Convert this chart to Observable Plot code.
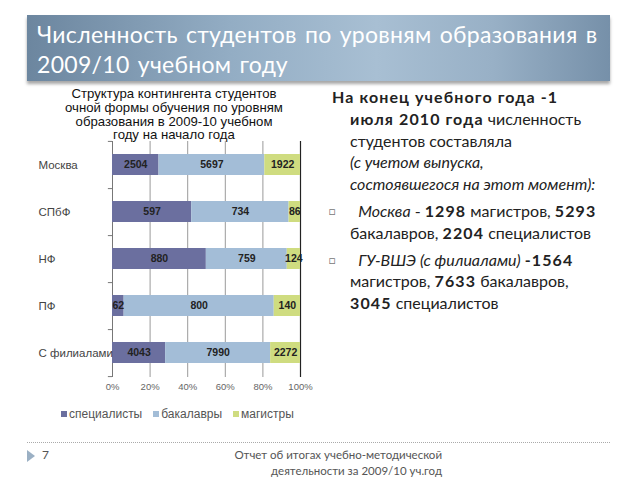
<!DOCTYPE html>
<html><head><meta charset="utf-8">
<script src="https://cdn.jsdelivr.net/npm/d3@7"></script>
<script src="https://cdn.jsdelivr.net/npm/@observablehq/plot@0.6"></script>
<style>
html,body{margin:0;padding:0;background:#fff;}
#page{position:relative;width:640px;height:480px;overflow:hidden;font-family:Lato,"DejaVu Sans",sans-serif;}
#banner{position:absolute;left:27px;top:15px;width:583px;height:66px;
 background:linear-gradient(to right,#6c869f 0%,#93adc4 35%,#a8bfd3 60%,#98b0c6 80%,#7690a9 100%);
 box-shadow:0 3px 3px rgba(0,0,0,0.35);}
#banner .t{position:absolute;left:10px;color:#fff;font-size:23px;white-space:nowrap;letter-spacing:0.3px;word-spacing:2px;}
#ctitle{position:absolute;left:54px;width:240px;top:87px;text-align:center;font-family:"Liberation Sans",Arial,sans-serif;font-size:13.2px;line-height:13.8px;color:#111;white-space:nowrap;}
#chart{position:absolute;left:0;top:130px;}
#legend{position:absolute;left:61px;top:407px;font-family:"Liberation Sans",Arial,sans-serif;font-size:12px;color:#555;white-space:nowrap;}
#legend span.sw{display:inline-block;width:6px;height:6px;margin-right:2px;vertical-align:1px;}
#legend span.item{margin-right:11px;}
#rtext{position:absolute;left:332px;top:86px;width:300px;font-size:16px;line-height:21.8px;color:#222;white-space:nowrap;}
#rtext b{letter-spacing:1.1px;}
#rtext p{margin:0;}
#rtext .ind{padding-left:18px;}
#rtext .bul{position:relative;padding-left:18px;margin-top:5px;}
#rtext .bul .bx{position:absolute;left:-3px;top:0;font-size:11px;color:#777;}
#footline{position:absolute;left:27px;top:442px;width:583px;border-top:1px dotted #aaa;}
#tri{position:absolute;left:27px;top:450px;width:0;height:0;border-top:6px solid transparent;border-bottom:6px solid transparent;border-left:8px solid #9bb0c4;}
#pnum{position:absolute;left:42px;top:447px;font-size:12px;color:#555;}
#foot{position:absolute;left:200px;width:242px;top:447px;text-align:right;font-size:11.5px;line-height:15.5px;color:#555;}
</style></head>
<body><div id="page">
<div id="banner">
 <div class="t" style="top:5px">Численность студентов по уровням образования в</div>
 <div class="t" style="top:35px">2009/10 учебном году</div>
</div>
<div id="ctitle">Структура контингента студентов<br>очной формы обучения по уровням<br>образования в 2009-10 учебном<br>году на начало года</div>
<div id="chart"></div>
<div id="legend"></div>
<div id="rtext">
 <p><b>На конец учебного года -1</b></p>
 <p class="ind"><b>июля 2010 года</b> численность<br>студентов составляла<br><i>(с учетом выпуска,<br>состоявшегося на этот момент):</i></p>
 <p class="bul"><span class="bx">□</span>&nbsp;&nbsp;<i>Москва</i> - <b>1298</b> магистров, <b>5293</b><br>бакалавров, <b>2204</b> специалистов</p>
 <p class="bul"><span class="bx">□</span>&nbsp;&nbsp;<i>ГУ-ВШЭ (с филиалами)</i> <b>-1564</b><br>магистров, <b>7633</b> бакалавров,<br><b>3045</b> специалистов</p>
</div>
<div id="footline"></div>
<div id="tri"></div>
<div id="pnum">7</div>
<div id="foot">Отчет об итогах учебно-методической<br>деятельности за 2009/10 уч.год</div>
</div>
<script>
const categories = ["Москва", "СПбФ", "НФ", "ПФ", "С филиалами"];
const levels = ["специалисты", "бакалавры", "магистры"];
const specialists = [2504, 597, 880, 62, 4043];
const bachelors = [5697, 734, 759, 800, 7990];
const masters = [1922, 86, 124, 140, 2272];
const colors = ["#6b6f9f", "#a3bdd7", "#cfdc80"];
const xTicks = [0, 0.2, 0.4, 0.6, 0.8, 1];
const xTickLabels = ["0%", "20%", "40%", "60%", "80%", "100%"];

const series = [specialists, bachelors, masters];
const rows = [];
levels.forEach((lev, li) => categories.forEach((c, ci) => rows.push({cat: c, level: lev, value: series[li][ci]})));

const H = 280, mTop = 11, mBot = 33;
const chart = Plot.plot({
  width: 320, height: H,
  marginLeft: 112, marginRight: 20, marginTop: mTop, marginBottom: mBot,
  style: {fontFamily: "'Liberation Sans', Arial, sans-serif", background: "transparent"},
  x: {domain: [0, 1]},
  y: {domain: categories, paddingInner: 0.55, paddingOuter: 0.275, align: 0.5},
  color: {domain: levels, range: colors},
  marks: [
    Plot.ruleX(xTicks.slice(1, 5), {stroke: "#9a9a9a", strokeWidth: 1}),
    Plot.ruleX([1], {stroke: "#222", strokeWidth: 1.2}),
    Plot.ruleX([0], {stroke: "#777", strokeWidth: 1}),
    Plot.ruleY(categories, {y: d => d, x1: -0.022, x2: 0, dy: (H - mTop - mBot) / 10, stroke: "#777"}),
    Plot.ruleY(categories.slice(0, 1), {y: d => d, x1: -0.022, x2: 0, dy: -(H - mTop - mBot) / 10, stroke: "#777"}),
    Plot.barX(rows, Plot.stackX({x: "value", y: "cat", fill: "level", offset: "normalize"})),
    Plot.text(rows, Plot.stackX({x: "value", y: "cat", z: "level", text: d => String(d.value), offset: "normalize",
      fontSize: 10.5, fontWeight: "bold", fill: "#222"})),
    Plot.axisX({ticks: xTicks, tickFormat: (d, i) => xTickLabels[i], tickSize: 0, tickPadding: 6, fontSize: 9.5, color: "#666", label: null}),
    Plot.axisY({tickSize: 0, tickPadding: 0, textAnchor: "start", dx: -74, fontSize: 11.5, color: "#444", label: null})
  ]
});
document.getElementById("chart").appendChild(chart);

const lg = document.getElementById("legend");
levels.forEach((l, i) => {
  const s = document.createElement("span"); s.className = "item";
  s.innerHTML = `<span class="sw" style="background:${colors[i]}"></span>${l}`;
  lg.appendChild(s);
});
</script>
</body></html>
